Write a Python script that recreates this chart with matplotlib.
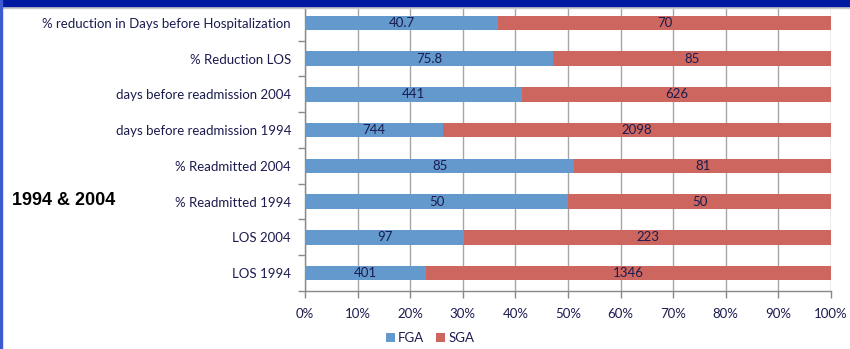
import numpy as np
import matplotlib.pyplot as plt
from matplotlib.patches import Rectangle
from matplotlib.ticker import FuncFormatter, MultipleLocator, FixedLocator

# Outcome measures, top to bottom
categories = [
    '% reduction in Days before Hospitalization',
    '% Reduction LOS',
    'days before readmission 2004',
    'days before readmission 1994',
    '% Readmitted 2004',
    '% Readmitted 1994',
    'LOS 2004',
    'LOS 1994',
]
fga = [40.7, 75.8, 441, 744, 85, 50, 97, 401]
sga = [70, 85, 626, 2098, 81, 50, 223, 1346]
fga_labels = ['40.7', '75.8', '441', '744', '85', '50', '97', '401']
sga_labels = ['70', '85', '626', '2098', '81', '50', '223', '1346']

blue = '#6399CC'
red = '#CD665F'
navy = '#1B1B4F'

plt.rcParams['font.family'] = ['Lato', 'DejaVu Sans']

fga = np.array(fga, dtype=float)
sga = np.array(sga, dtype=float)
total = fga + sga
fga_share = fga / total
sga_share = sga / total
y = np.arange(len(categories))

fig = plt.figure(figsize=(8.5, 3.49), dpi=100)
ax = fig.add_axes([0.3588, 0.1662, 0.6188, 0.8195])

ax.barh(y, fga_share, height=0.4, color=blue, label='FGA', zorder=3)
ax.barh(y, sga_share, left=fga_share, height=0.4, color=red, label='SGA', zorder=3)

# Values written in the middle of each segment
for i in range(len(categories)):
    ax.text(fga_share[i] / 2, y[i], fga_labels[i], ha='center', va='center',
            fontsize=9.5, color=navy, zorder=4)
    ax.text(fga_share[i] + sga_share[i] / 2, y[i], sga_labels[i], ha='center',
            va='center', fontsize=9.5, color=navy, zorder=4)

ax.set_xlim(0, 1)
ax.set_ylim(len(categories) - 0.5, -0.5)
ax.xaxis.set_major_locator(MultipleLocator(0.1))
ax.xaxis.set_major_formatter(FuncFormatter(lambda v, p: f'{int(round(v * 100))}%'))
ax.grid(axis='x', color='#A6A6A6', linewidth=1.0, zorder=0)

ax.set_yticks(y)
ax.set_yticklabels(categories)
ax.yaxis.set_minor_locator(FixedLocator(np.arange(-0.5, len(categories), 1.0)))
ax.tick_params(axis='y', which='major', length=0, pad=10, labelsize=9.5, labelcolor=navy)
ax.tick_params(axis='y', which='minor', length=5, color='#888888', width=1)
ax.tick_params(axis='x', length=5, color='#888888', width=1, pad=7,
               labelsize=9.5, labelcolor=navy)

for side in ['top', 'right']:
    ax.spines[side].set_visible(False)
for side in ['left', 'bottom']:
    ax.spines[side].set_color('#888888')
    ax.spines[side].set_linewidth(1)

fig.text(0.014, 0.425, '1994 & 2004', fontsize=13, fontweight='bold',
         family='Liberation Sans', color='black', va='center', ha='left')

fig.legend(loc='center', bbox_to_anchor=(0.506, 0.032), ncol=2, frameon=False,
           fontsize=9.5, handlelength=0.7, handleheight=0.7, handletextpad=0.2,
           columnspacing=0.9, labelcolor=navy)

# Slide frame: title band along the top, thin border on the left
fig.patches.append(Rectangle((0, 1 - 6 / 349), 1, 6 / 349, transform=fig.transFigure,
                             color='#0019A3', zorder=10))
fig.patches.append(Rectangle((0, 1 - 7.5 / 349), 1, 1.5 / 349, transform=fig.transFigure,
                             color='#C8C8C8', zorder=9))
fig.patches.append(Rectangle((0, 0), 2 / 850, 1, transform=fig.transFigure,
                             color='#3D5BD0', zorder=10))

fig.savefig('out.png', dpi=100)
